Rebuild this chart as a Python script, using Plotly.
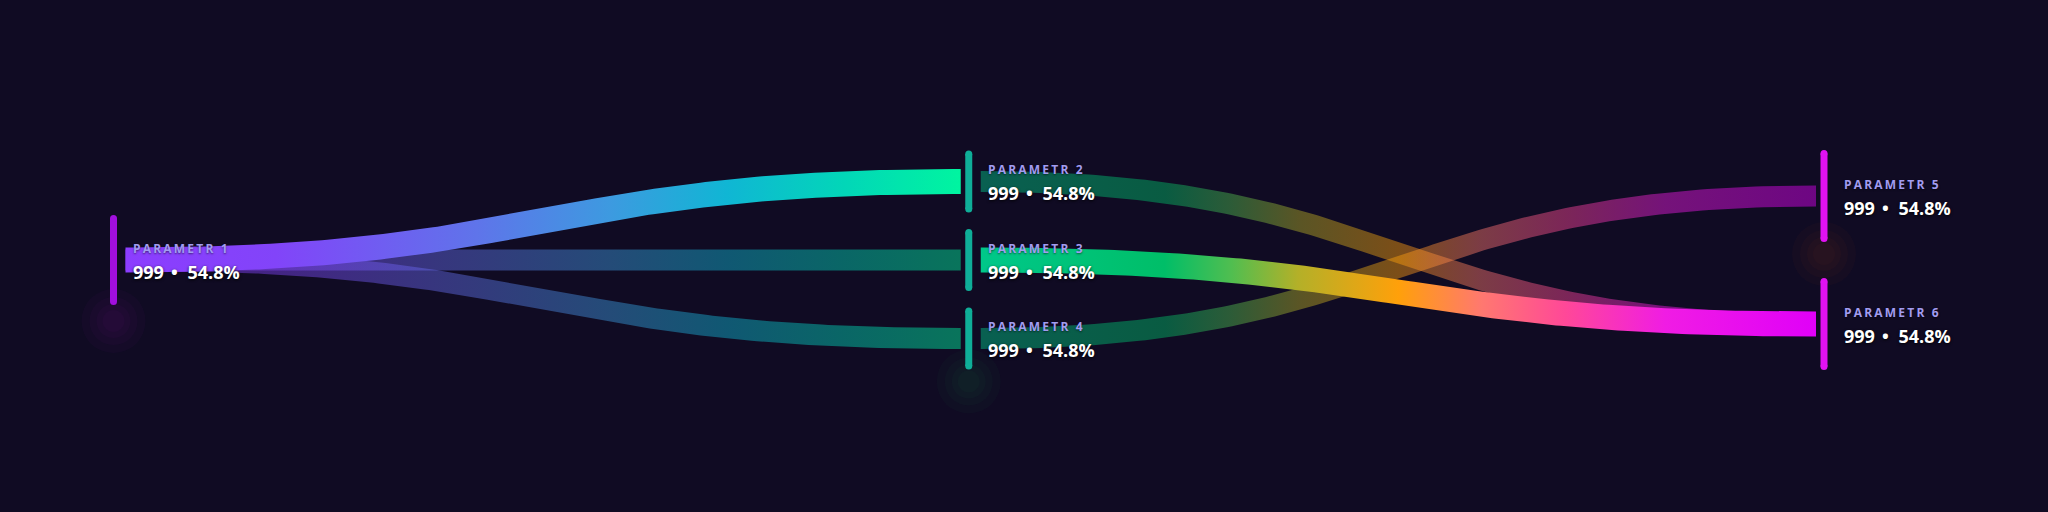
import numpy as np
import plotly.graph_objects as go

# ---------------- data ----------------
node_labels = ["PARAMETR 1", "PARAMETR 2", "PARAMETR 3", "PARAMETR 4", "PARAMETR 5", "PARAMETR 6"]
node_counts = [999, 999, 999, 999, 999, 999]
node_shares = [54.8, 54.8, 54.8, 54.8, 54.8, 54.8]
node_stage = [0, 1, 1, 1, 2, 2]
link_source = [0, 0, 0, 1, 2, 3]
link_target = [1, 2, 3, 5, 5, 4]
link_highlighted = [True, False, False, False, True, False]

# ---------------- style ----------------
W, H = 2048, 512
BG = "#100B23"
STAGE_X0, STAGE_STEP = 113.5, 855.25
MID_Y = 260
BAR_H = {0: 90, 1: 62, 2: 92}
BAR_PITCH = {0: 0, 1: 78.5, 2: 128}
BAR_W = 7
NODE_COLORS = {0: "#A10FDE", 1: "#0FAE98", 2: "#E112F2"}
LINK_GAP_OUT, LINK_GAP_IN = 12, 8
LINK_W_ON, LINK_W_OFF = 25, 21
DIM_OPACITY = 0.45
SCALES = {
    0: [[0, "#8C3DFF"], [0.18, "#8244F9"], [0.42, "#5F74EA"], [0.58, "#3D9AE0"],
        [0.72, "#10B6D4"], [0.86, "#02D6B8"], [1, "#00F5A0"]],
    1: [[0, "#00C88A"], [0.22, "#00BE68"], [0.3, "#50BE50"], [0.38, "#B4B028"],
        [0.5, "#FFA00A"], [0.6, "#FF7870"], [0.7, "#FF4898"], [0.82, "#F01CE4"], [1, "#E000F8"]],
}
# (node index, rgb, offset below bar bottom)
GLOWS = [(0, "176,32,224", 16), (3, "30,200,100", 12), (4, "220,110,30", 12)]
LABEL_DX = 17.5
LABEL_DY1, LABEL_DY2 = -12, 11.5
FONT = "Open Sans"

# ---------------- layout computation ----------------
n_nodes = len(node_labels)
stage_members = {}
for i, s in enumerate(node_stage):
    stage_members.setdefault(s, []).append(i)
node_x = [STAGE_X0 + s * STAGE_STEP for s in node_stage]
node_y = [0.0] * n_nodes
for s, members in stage_members.items():
    m = len(members)
    for k, i in enumerate(members):
        node_y[i] = MID_Y + (k - (m - 1) / 2) * BAR_PITCH[s]


def ribbon(x0, y0, x1, y1, w, n=160):
    t = np.linspace(0, 1, n)
    xm = (x0 + x1) / 2
    bx = (1 - t) ** 3 * x0 + 3 * (1 - t) ** 2 * t * xm + 3 * (1 - t) * t ** 2 * xm + t ** 3 * x1
    by = (1 - t) ** 3 * y0 + 3 * (1 - t) ** 2 * t * y0 + 3 * (1 - t) * t ** 2 * y1 + t ** 3 * y1
    dx = 3 * (1 - t) ** 2 * (xm - x0) + 3 * t ** 2 * (x1 - xm)
    dy = 6 * (1 - t) * t * (y1 - y0)
    L = np.hypot(dx, dy)
    nx, ny = -dy / L, dx / L
    ux, uy = bx + nx * w / 2, by + ny * w / 2
    lx, ly = bx - nx * w / 2, by - ny * w / 2
    xs = np.concatenate([ux, lx[::-1], ux[:1]])
    ys = np.concatenate([uy, ly[::-1], uy[:1]])
    return xs, ys


fig = go.Figure()

# soft glows under some bars
for ni, rgb, off in GLOWS:
    gy = node_y[ni] + BAR_H[node_stage[ni]] / 2 + off
    for size in [64, 48, 34, 22]:
        fig.add_trace(go.Scatter(
            x=[node_x[ni]], y=[gy], mode="markers",
            marker=dict(size=size, color=f"rgba({rgb},0.03)", line=dict(width=0)),
            hoverinfo="skip", showlegend=False))

# links: dim first, then highlighted
order = [i for i in range(len(link_source)) if not link_highlighted[i]] + \
        [i for i in range(len(link_source)) if link_highlighted[i]]
for li in order:
    s, t = link_source[li], link_target[li]
    on = link_highlighted[li]
    xs, ys = ribbon(node_x[s] + LINK_GAP_OUT, node_y[s], node_x[t] - LINK_GAP_IN, node_y[t],
                    LINK_W_ON if on else LINK_W_OFF)
    fig.add_trace(go.Scatter(
        x=xs, y=ys, mode="lines", line=dict(width=0), fill="toself",
        fillgradient=dict(type="horizontal", colorscale=SCALES[node_stage[s]]),
        opacity=1.0 if on else DIM_OPACITY, hoverinfo="skip", showlegend=False))

# node bars
for i in range(n_nodes):
    h = BAR_H[node_stage[i]]
    c = NODE_COLORS[node_stage[i]]
    fig.add_trace(go.Scatter(
        x=[node_x[i], node_x[i]],
        y=[node_y[i] - h / 2 + BAR_W / 2, node_y[i] + h / 2 - BAR_W / 2],
        mode="lines+markers", line=dict(color=c, width=BAR_W),
        marker=dict(size=BAR_W, color=c, line=dict(width=0)),
        hoverinfo="skip", showlegend=False))

# labels
annotations = []
for i in range(n_nodes):
    annotations.append(dict(
        x=node_x[i] + LABEL_DX, y=node_y[i] + LABEL_DY1, xref="x", yref="y",
        text=f'<span style="letter-spacing:2.2px">{node_labels[i]}</span>',
        showarrow=False, xanchor="left", yanchor="middle",
        font=dict(family=FONT, size=12, color="#A29CF0", weight=700,
                  shadow="0px 1px 2px rgba(0,0,0,0.5)")))
    annotations.append(dict(
        x=node_x[i] + LABEL_DX, y=node_y[i] + LABEL_DY2, xref="x", yref="y",
        text=(f'{node_counts[i]}<span style="letter-spacing:2.5px"> \u2022 </span>'
              f'{node_shares[i]:.1f}%'),
        showarrow=False, xanchor="left", yanchor="middle",
        font=dict(family=FONT, size=18, color="#FFFFFF", weight=700,
                  shadow="0px 1px 3px rgba(0,0,0,0.9)")))

fig.update_layout(
    width=W, height=H, margin=dict(l=0, r=0, t=0, b=0, pad=0),
    paper_bgcolor=BG, plot_bgcolor=BG, showlegend=False,
    xaxis=dict(range=[0, W], visible=False, fixedrange=True),
    yaxis=dict(range=[H, 0], visible=False, fixedrange=True),
    annotations=annotations,
)

fig.write_html("out.html", config={"displayModeBar": False},
               post_script="document.body.style.margin='0';document.body.style.overflow='hidden';")
